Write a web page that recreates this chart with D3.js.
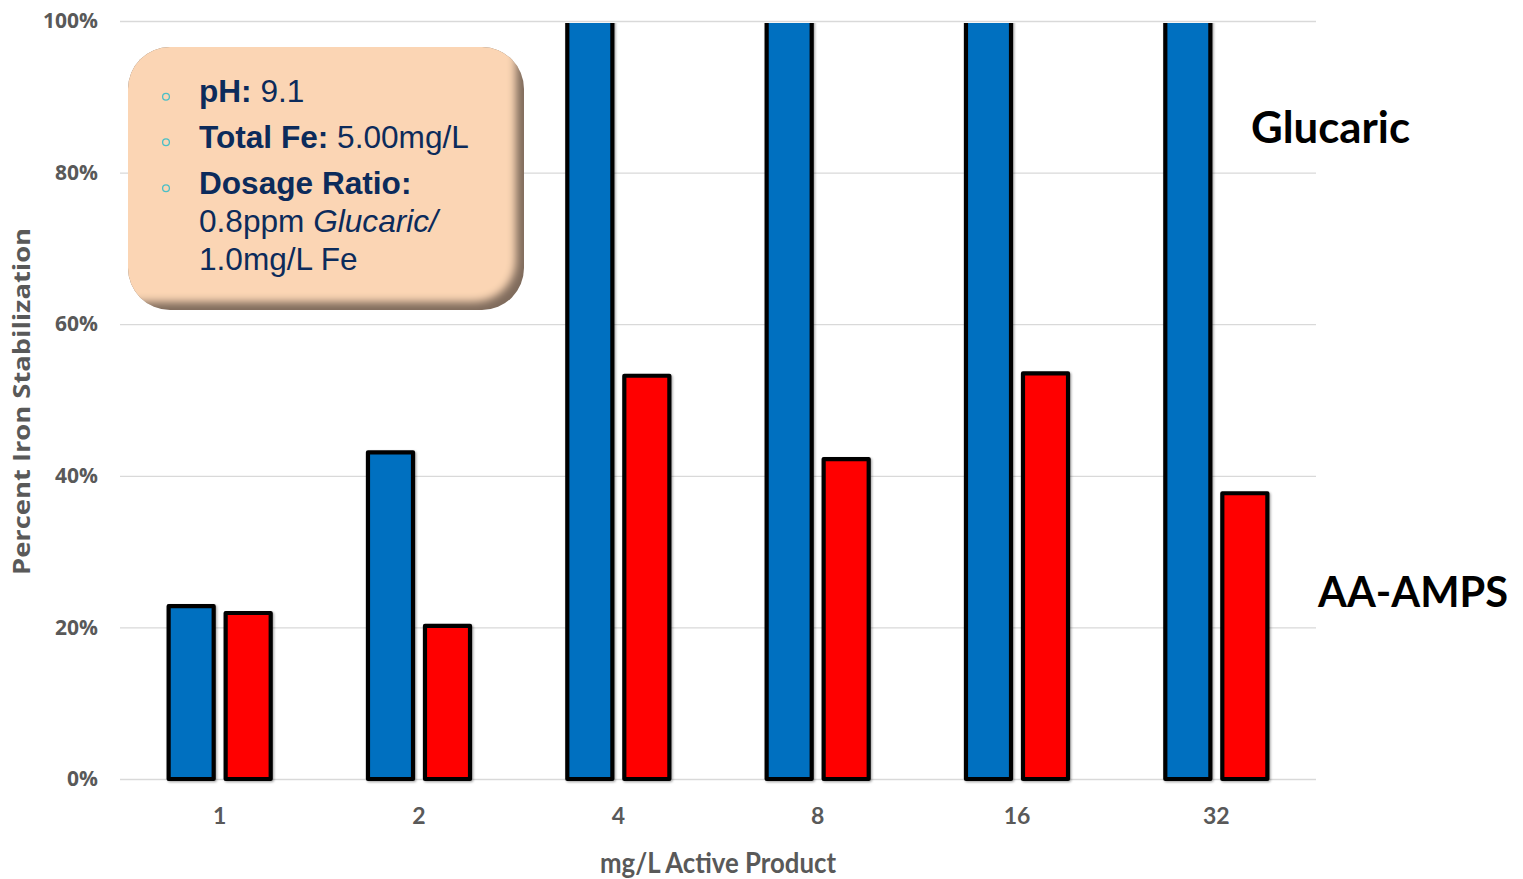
<!DOCTYPE html>
<html>
<head>
<meta charset="utf-8">
<script src="https://cdn.jsdelivr.net/npm/d3@7"></script>
<style>
  html, body { margin: 0; padding: 0; background: #ffffff; }
  svg { display: block; }
</style>
</head>
<body>
<svg id="chart" width="1523" height="879"></svg>
<script>
// Dosages (mg/L active product) on the x axis
const dosages = ["1", "2", "4", "8", "16", "32"];
// Percent iron stabilization per treatment (fraction of 1); runs past the top of the axis are clipped at 100%
const glucaric = [0.228, 0.431, 1.0, 1.0, 1.0, 1.0];
const aaAmps   = [0.219, 0.202, 0.532, 0.422, 0.535, 0.377];
const seriesNames = ["Glucaric", "AA-AMPS"];
const seriesColors = ["#0070c0", "#ff0000"];
const yTicks = [0, 0.2, 0.4, 0.6, 0.8, 1.0];

const svg = d3.select("#chart");
const plot = { left: 120, right: 1316, top: 21, bottom: 779 };

const x = d3.scaleBand().domain(dosages).range([plot.left, plot.right]).padding(0);
const xs = d3.scaleBand().domain(seriesNames).range([-0.286 * x.bandwidth(), 0.286 * x.bandwidth()]);
const barW = 0.226 * x.bandwidth();
const y = d3.scaleLinear().domain([0, 1]).range([plot.bottom, plot.top]);

const defs = svg.append("defs");
defs.append("clipPath").attr("id", "plotClip")
  .append("rect")
  .attr("x", plot.left - 10).attr("y", y(1) + 2)
  .attr("width", plot.right - plot.left + 20).attr("height", plot.bottom - y(1) + 20);

const sh = defs.append("filter").attr("id", "barShadow")
  .attr("x", "-20%").attr("y", "-5%").attr("width", "140%").attr("height", "110%");
sh.append("feDropShadow").attr("dx", 1.2).attr("dy", 1.2).attr("stdDeviation", 1)
  .attr("flood-color", "#000").attr("flood-opacity", 0.35);

// Gridlines
const grid = d3.axisLeft(y).tickValues(yTicks).tickSize(-(plot.right - plot.left)).tickFormat("");
svg.append("g")
  .attr("transform", `translate(${plot.left},0)`)
  .call(grid)
  .call(g => g.select(".domain").remove())
  .call(g => g.selectAll(".tick line").attr("stroke", "#d9d9d9").attr("stroke-width", 1.3));

// Y tick labels
const yAxis = d3.axisLeft(y).tickValues(yTicks).tickSize(0).tickPadding(22).tickFormat(d3.format(".0%"));
svg.append("g")
  .attr("transform", `translate(${plot.left},0)`)
  .call(yAxis)
  .call(g => g.select(".domain").remove())
  .call(g => g.selectAll(".tick text")
    .attr("fill", "#595959")
    .attr("font-family", "'Open Sans', sans-serif")
    .attr("font-weight", 700)
    .attr("font-size", 21));

// X tick labels
const xAxis = d3.axisBottom(x).tickSize(0).tickPadding(29);
svg.append("g")
  .attr("transform", `translate(0,${plot.bottom})`)
  .call(xAxis)
  .call(g => g.select(".domain").remove())
  .call(g => g.selectAll(".tick text")
    .attr("fill", "#595959")
    .attr("font-family", "Lato, sans-serif")
    .attr("font-weight", 700)
    .attr("font-size", 23));

// Bars
const rows = [];
dosages.forEach((d, i) => {
  rows.push({ dose: d, series: seriesNames[0], value: glucaric[i], color: seriesColors[0] });
  rows.push({ dose: d, series: seriesNames[1], value: aaAmps[i], color: seriesColors[1] });
});

svg.append("g")
  .attr("clip-path", "url(#plotClip)")
  .selectAll("rect")
  .data(rows)
  .join("rect")
  .attr("x", r => x(r.dose) + x.bandwidth() / 2 + xs(r.series) + (xs.bandwidth() - barW) / 2)
  .attr("y", r => y(r.value))
  .attr("width", barW)
  .attr("height", r => y(0) - y(r.value))
  .attr("fill", r => r.color)
  .attr("stroke", "#000")
  .attr("stroke-width", 4.2)
  .attr("stroke-linejoin", "round")
  .attr("filter", "url(#barShadow)");

// Axis titles
svg.append("text")
  .attr("transform", `translate(30,${(228 + 575) / 2}) rotate(-90)`)
  .attr("text-anchor", "middle")
  .attr("fill", "#595959")
  .attr("font-family", "'Open Sans', sans-serif")
  .attr("font-weight", 700)
  .attr("font-size", 23)
  .attr("textLength", 347)
  .attr("lengthAdjust", "spacingAndGlyphs")
  .text("Percent Iron Stabilization");

svg.append("text")
  .attr("x", (plot.left + plot.right) / 2)
  .attr("y", 873)
  .attr("text-anchor", "middle")
  .attr("fill", "#595959")
  .attr("font-family", "Lato, sans-serif")
  .attr("font-weight", 700)
  .attr("font-size", 29)
  .attr("textLength", 236)
  .attr("lengthAdjust", "spacingAndGlyphs")
  .text("mg/L Active Product");

// Series labels
svg.append("text")
  .attr("x", 1251).attr("y", 143)
  .attr("fill", "#000")
  .attr("font-family", "Lato, sans-serif")
  .attr("font-weight", 700)
  .attr("font-size", 43)
  .attr("textLength", 159)
  .attr("lengthAdjust", "spacingAndGlyphs")
  .text(seriesNames[0]);

svg.append("text")
  .attr("x", 1318).attr("y", 607)
  .attr("fill", "#000")
  .attr("font-family", "Lato, sans-serif")
  .attr("font-weight", 700)
  .attr("font-size", 42)
  .attr("textLength", 190)
  .attr("lengthAdjust", "spacingAndGlyphs")
  .text(seriesNames[1]);

// Conditions callout box
const box = { x: 128, y: 47, w: 396, h: 263, r: 42 };
defs.append("clipPath").attr("id", "boxClip")
  .append("rect").attr("x", box.x).attr("y", box.y)
  .attr("width", box.w).attr("height", box.h).attr("rx", box.r);
const soft = defs.append("filter").attr("id", "boxSoft")
  .attr("x", "-10%").attr("y", "-10%").attr("width", "120%").attr("height", "120%");
soft.append("feGaussianBlur").attr("stdDeviation", 4);

const boxG = svg.append("g").attr("clip-path", "url(#boxClip)");
boxG.append("rect")
  .attr("x", box.x).attr("y", box.y).attr("width", box.w).attr("height", box.h)
  .attr("fill", "#7f6b5c");
boxG.append("rect")
  .attr("x", box.x - 40).attr("y", box.y - 40)
  .attr("width", box.w + 40 - 8).attr("height", box.h + 40 - 8)
  .attr("rx", box.r).attr("fill", "#fbd5b4")
  .attr("filter", "url(#boxSoft)");

const navy = "#0c2b5b";
const bulletY = [96.7, 142.3, 188.3];
svg.append("g").selectAll("circle")
  .data(bulletY)
  .join("circle")
  .attr("cx", 166).attr("cy", d => d).attr("r", 3.4)
  .attr("fill", "none").attr("stroke", "#4bbfc6").attr("stroke-width", 1.3);

const lines = [
  { y: 102, parts: [{ t: "pH:", w: 700 }, { t: " 9.1", w: 400 }] },
  { y: 147.5, parts: [{ t: "Total Fe:", w: 700 }, { t: " 5.00mg/L", w: 400 }] },
  { y: 193.5, parts: [{ t: "Dosage Ratio:", w: 700 }] },
  { y: 231.5, parts: [{ t: "0.8ppm ", w: 400 }, { t: "Glucaric/", w: 400, i: true }] },
  { y: 270, parts: [{ t: "1.0mg/L Fe", w: 400 }] }
];
const txt = svg.append("g")
  .attr("font-family", "'Liberation Sans', Arial, sans-serif")
  .attr("font-size", 31.6)
  .attr("fill", navy);
lines.forEach(l => {
  const t = txt.append("text").attr("x", 199).attr("y", l.y);
  l.parts.forEach(p => {
    t.append("tspan")
      .attr("font-weight", p.w)
      .attr("font-style", p.i ? "italic" : "normal")
      .text(p.t);
  });
});
</script>
</body>
</html>
